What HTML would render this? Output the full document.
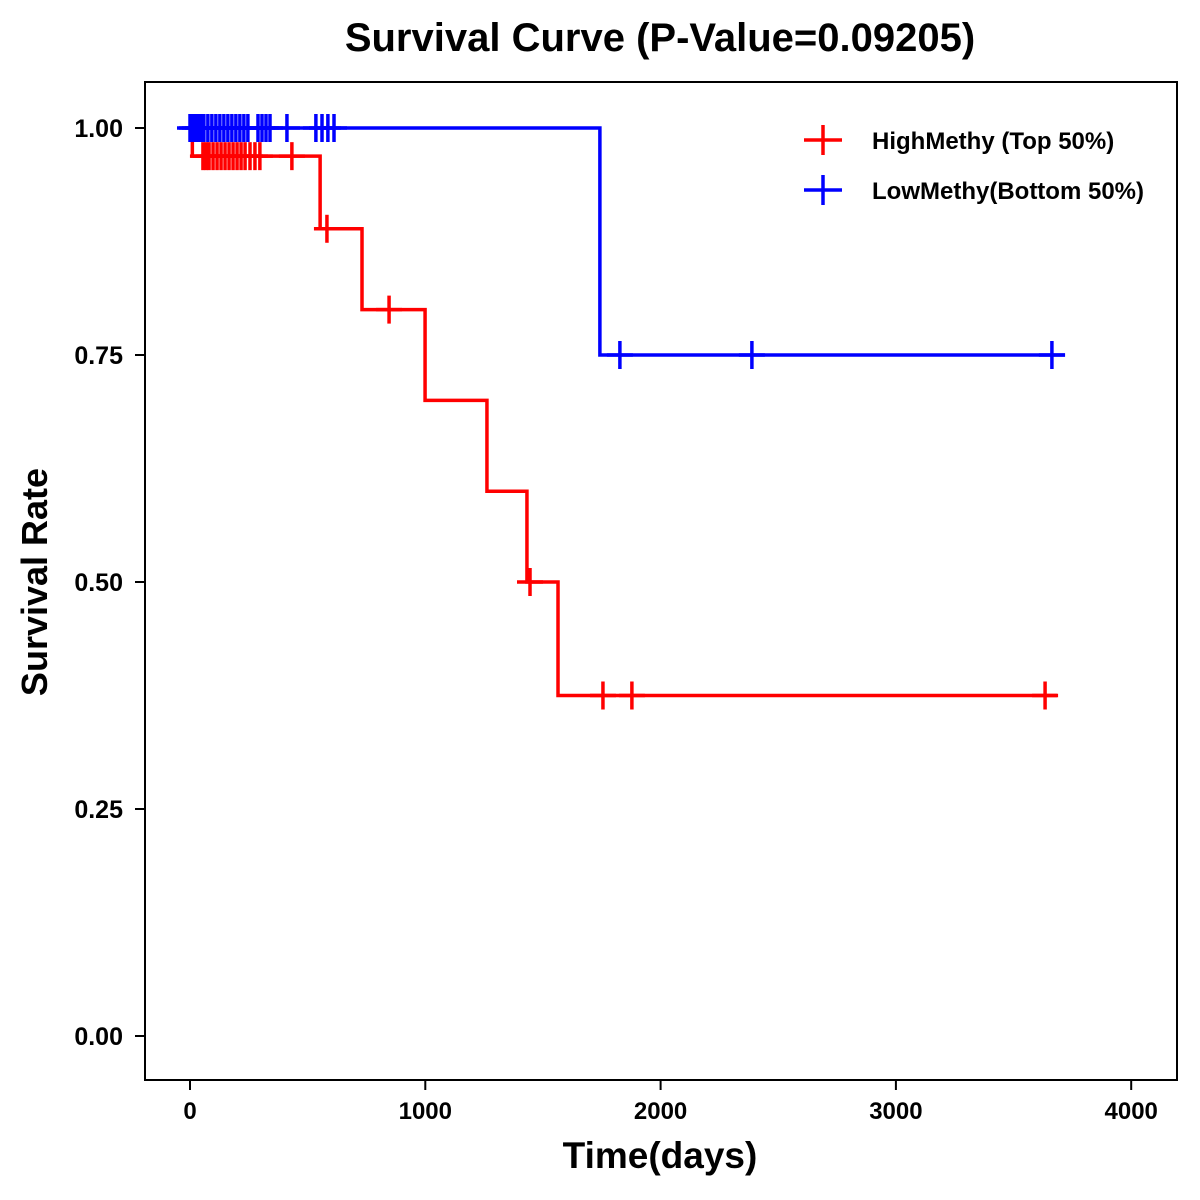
<!DOCTYPE html>
<html><head><meta charset="utf-8"><style>
html,body{margin:0;padding:0;background:#fff;}
svg{display:block;font-family:"Liberation Sans",Arial,sans-serif;}
</style></head><body>
<svg id="chart" width="1200" height="1200" viewBox="0 0 1200 1200">
<text x="660" y="51" text-anchor="middle" font-size="40" font-weight="bold">Survival Curve (P-Value=0.09205)</text>
<rect x="145" y="82" width="1032" height="998" fill="none" stroke="#000" stroke-width="2"/>
<g id="axes"></g>
<g id="series"></g>
<text x="660" y="1168" text-anchor="middle" font-size="37" font-weight="bold">Time(days)</text>
<text transform="translate(47,582) rotate(-90)" text-anchor="middle" font-size="36" font-weight="bold">Survival Rate</text>
<g>
<g>
<line x1="804" y1="140" x2="842" y2="140" stroke="#ff0000" stroke-width="3.5"/><line x1="823" y1="125" x2="823" y2="155" stroke="#ff0000" stroke-width="3.5"/>
<text x="872" y="149" font-size="24" font-weight="bold">HighMethy (Top 50%)</text></g>
<g>
<line x1="804" y1="190" x2="842" y2="190" stroke="#0000ff" stroke-width="3.5"/><line x1="823" y1="175" x2="823" y2="205" stroke="#0000ff" stroke-width="3.5"/>
<text x="872" y="199" font-size="24" font-weight="bold">LowMethy(Bottom 50%)</text></g>
</g>
</svg>
<script>
const xTicks=[0,1000,2000,3000,4000];
const yTicks=[0,0.25,0.5,0.75,1];
const yTickLabels=["0.00","0.25","0.50","0.75","1.00"];
const highTimes=[0,10,553,731,999,1262,1432,1564];
const highSurv=[1,0.969,0.889,0.80,0.70,0.60,0.50,0.375];
const highEnd=3685;
const highCensor=[55,68,81,98,115,132,149,166,183,200,217,234,255,276,297,433,582,846,1445,1755,1878,3634];
const lowTimes=[0,1742];
const lowSurv=[1,0.75];
const lowEnd=3719;
const lowCensor=[0,8,21,34,47,59,76,93,110,127,144,161,178,195,212,229,246,289,306,323,340,412,535,561,586,612,1827,2388,3663];

const X=t=>190+t*0.23530;
const Y=s=>1036-s*908;
const NS="http://www.w3.org/2000/svg";
function mk(tag,attrs,parent){const e=document.createElementNS(NS,tag);for(const k in attrs)e.setAttribute(k,attrs[k]);parent.appendChild(e);return e;}
const axes=document.getElementById('axes');
xTicks.forEach((t)=>{
  const l=mk('line',{x1:X(t),x2:X(t),y1:1080,y2:1090,stroke:'#000','stroke-width':2},axes);
  
  
  const tx=mk('text',{x:X(t),y:1119,'text-anchor':'middle','font-size':24,'font-weight':'bold'},axes);
  tx.textContent=t;
  
  
});
yTicks.forEach((v,i)=>{
  const l=mk('line',{x1:135,x2:145,y1:Y(v),y2:Y(v),stroke:'#000','stroke-width':2},axes);
  
  
  const tx=mk('text',{x:123,y:Y(v)+9,'text-anchor':'end','font-size':25,'font-weight':'bold'},axes);
  tx.textContent=yTickLabels[i];
  
  
});
const series=document.getElementById('series');
function survAt(times,surv,t){let s=surv[0];for(let i=0;i<times.length;i++){if(times[i]<=t)s=surv[i];}return s;}
function draw(times,surv,end,censor,color,name){
  let d='M'+X(times[0])+','+Y(surv[0]);
  for(let i=1;i<times.length;i++){d+=' H'+X(times[i])+' V'+Y(surv[i]);}
  d+=' H'+X(end);
  const p=mk('path',{d:d,fill:'none',stroke:color,'stroke-width':3.5},series);
  
  
  censor.forEach(t=>{
    const s=survAt(times,surv,t);
    const g=mk('g',{},series);
    
    
    mk('line',{x1:X(t)-13,x2:X(t)+13,y1:Y(s),y2:Y(s),stroke:color,'stroke-width':3.5},g);
    mk('line',{x1:X(t),x2:X(t),y1:Y(s)-14,y2:Y(s)+14,stroke:color,'stroke-width':3.5},g);
  });
}
draw(highTimes,highSurv,highEnd,highCensor,'#ff0000','high-methy');
draw(lowTimes,lowSurv,lowEnd,lowCensor,'#0000ff','low-methy');
</script>
</body></html>
